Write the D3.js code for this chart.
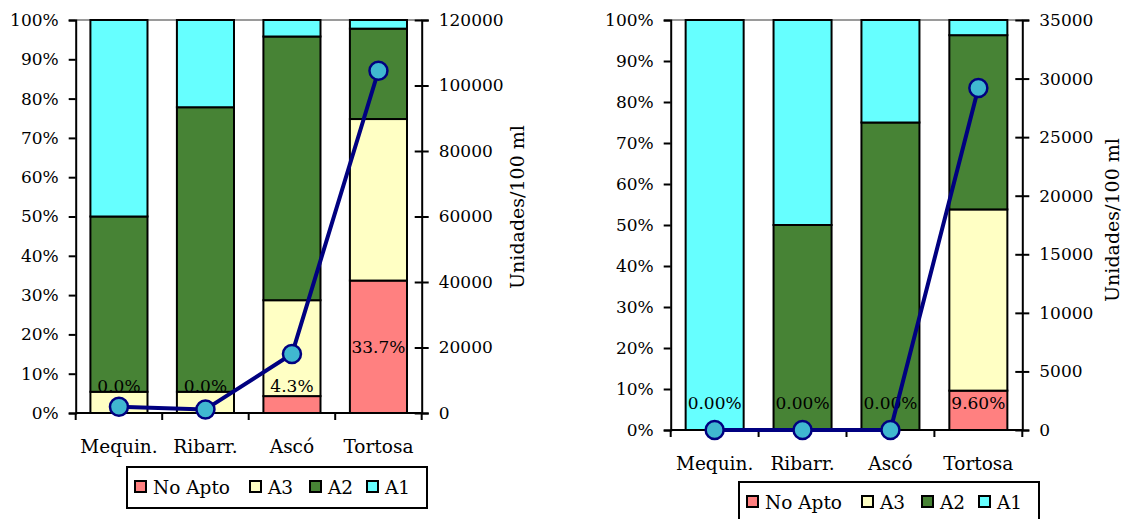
<!DOCTYPE html>
<html>

<head>
    <meta charset="utf-8">
    <title>Calidad del agua - Ebro</title>
    <script type="text/javascript" src="https://d3js.org/d3.v7.min.js"></script>

    <style>
        body {
            margin: 0;
            background: #fff;
        }

        svg {
            display: block;
        }

        text {
            font-family: "DejaVu Serif", serif;
            font-size: 17px;
            fill: #000;
        }

        text.cat,
        text.leg {
            font-size: 18.5px;
        }

        text.ttl {
            font-size: 19px;
        }
    </style>

</head>

<body>
</body>

<script type="text/javascript">
    //Width and height
    var w = 1127;
    var h = 519;

    //Categories and legend names
    var categories = ["Mequin.", "Ribarr.", "Ascó", "Tortosa"];
    var seriesNames = ["No Apto", "A3", "A2", "A1"];
    var seriesColors = ["#ff8080", "#ffffc4", "#478335", "#66ffff"];

    //Left chart: share of samples per class
    var leftNoApto = [0, 0, 0.043, 0.337];
    var leftA3 = [0.054, 0.054, 0.244, 0.411];
    var leftA2 = [0.446, 0.724, 0.671, 0.230];
    var leftA1 = [0.500, 0.222, 0.042, 0.022];
    //Left chart: Unidades/100 ml
    var leftUnits = [1900, 1100, 18000, 104500];
    var leftUnitTicks = [0, 20000, 40000, 60000, 80000, 100000, 120000];

    //Right chart: share of samples per class
    var rightNoApto = [0, 0, 0, 0.096];
    var rightA3 = [0, 0, 0, 0.442];
    var rightA2 = [0, 0.50, 0.75, 0.425];
    var rightA1 = [1.00, 0.50, 0.25, 0.037];
    //Right chart: Unidades/100 ml
    var rightUnits = [0, 0, 0, 29200];
    var rightUnitTicks = [0, 5000, 10000, 15000, 20000, 25000, 30000, 35000];

    var pctTicks = [0, 0.1, 0.2, 0.3, 0.4, 0.5, 0.6, 0.7, 0.8, 0.9, 1];

    var svg = d3.select("body")
        .append("svg")
        .attr("width", w)
        .attr("height", h);

    drawChart({
        left: 75.7, right: 421.7, top: 20, bottom: 413,
        series: [leftNoApto, leftA3, leftA2, leftA1],
        units: leftUnits, unitTicks: leftUnitTicks,
        labelFormat: d3.format(".1%"),
        titleX: 516.7, titleY: 207,
        legendX: 127, legendY: 467
    });

    drawChart({
        left: 670.7, right: 1022.3, top: 20, bottom: 430,
        series: [rightNoApto, rightA3, rightA2, rightA1],
        units: rightUnits, unitTicks: rightUnitTicks,
        labelFormat: d3.format(".2%"),
        titleX: 1111.7, titleY: 220,
        legendX: 739, legendY: 482
    });

    function drawChart(c) {
        var g = svg.append("g");

        var x = d3.scaleBand()
            .domain(categories)
            .range([c.left, c.right])
            .paddingInner(0.34)
            .paddingOuter(0.17);

        var y = d3.scaleLinear().domain([0, 1]).range([c.bottom, c.top]);

        var yUnits = d3.scaleLinear()
            .domain([0, d3.max(c.unitTicks)])
            .range([c.bottom, c.top]);

        //Build rows for d3.stack
        var rows = categories.map(function(cat, i) {
            var r = { cat: cat };
            seriesNames.forEach(function(s, j) {
                r[s] = c.series[j][i];
            });
            return r;
        });

        var stacked = d3.stack().keys(seriesNames)(rows);

        //Gray plot border at the top
        g.append("line")
            .attr("x1", c.left).attr("x2", c.right)
            .attr("y1", c.top).attr("y2", c.top)
            .attr("stroke", "#9a9a9a")
            .attr("stroke-width", 2);

        //Stacked bars
        g.selectAll("g.layer")
            .data(stacked)
            .enter()
            .append("g")
            .attr("class", "layer")
            .attr("fill", function(d, i) {
                return seriesColors[i];
            })
            .selectAll("rect")
            .data(function(d) {
                return d.filter(function(p) {
                    return p[1] - p[0] > 0;
                });
            })
            .enter()
            .append("rect")
            .attr("x", function(d) {
                return x(d.data.cat);
            })
            .attr("width", x.bandwidth())
            .attr("y", function(d) {
                return y(d[1]);
            })
            .attr("height", function(d) {
                return y(d[0]) - y(d[1]);
            })
            .attr("stroke", "#000")
            .attr("stroke-width", 2);

        //Data labels of the "No Apto" layer
        g.selectAll("text.lbl")
            .data(stacked[0])
            .enter()
            .append("text")
            .attr("class", "lbl")
            .attr("x", function(d) {
                return x(d.data.cat) + x.bandwidth() / 2;
            })
            .attr("y", function(d) {
                var mid = (y(d[0]) + y(d[1])) / 2;
                return Math.min(mid, y(0) - 27);
            })
            .attr("text-anchor", "middle")
            .attr("dominant-baseline", "central")
            .text(function(d) {
                return c.labelFormat(d[1] - d[0]);
            });

        //Left axis (percent)
        var axL = g.append("g")
            .attr("transform", "translate(" + c.left + ",0)")
            .call(d3.axisLeft(y)
                .tickValues(pctTicks)
                .tickFormat(d3.format(".0%"))
                .tickSize(7)
                .tickPadding(10));

        //Right axis (units)
        var axR = g.append("g")
            .attr("transform", "translate(" + c.right + ",0)")
            .call(d3.axisRight(yUnits)
                .tickValues(c.unitTicks)
                .tickFormat(d3.format("d"))
                .tickSize(7)
                .tickPadding(10));
        axR.selectAll(".tick line").attr("x1", -7);

        //Bottom axis, ticks at band edges
        var edges = d3.range(categories.length + 1).map(function(i) {
            return c.left + i * x.step();
        });
        g.append("line")
            .attr("x1", c.left).attr("x2", c.right)
            .attr("y1", c.bottom).attr("y2", c.bottom)
            .attr("stroke", "#000")
            .attr("stroke-width", 2);
        g.selectAll("line.xt")
            .data(edges)
            .enter()
            .append("line")
            .attr("class", "xt")
            .attr("x1", function(d) { return d; })
            .attr("x2", function(d) { return d; })
            .attr("y1", c.bottom)
            .attr("y2", c.bottom + 7)
            .attr("stroke", "#000")
            .attr("stroke-width", 2);
        g.selectAll("text.cat")
            .data(categories)
            .enter()
            .append("text")
            .attr("class", "cat")
            .attr("x", function(d) {
                return x(d) + x.bandwidth() / 2;
            })
            .attr("y", c.bottom + 40)
            .attr("text-anchor", "middle")
            .text(function(d) { return d; });

        [axL, axR].forEach(function(a) {
            a.select(".domain").attr("stroke-width", 2).attr("stroke", "#000");
            a.selectAll(".tick line").attr("stroke-width", 2).attr("stroke", "#000");
            a.selectAll(".tick text")
                .style("font-family", "DejaVu Serif, serif")
                .style("font-size", "17px");
        });

        //Line of units
        var line = d3.line()
            .x(function(d, i) {
                return x(categories[i]) + x.bandwidth() / 2;
            })
            .y(function(d) {
                return yUnits(d);
            });

        g.append("path")
            .datum(c.units)
            .attr("d", line)
            .attr("fill", "none")
            .attr("stroke", "#000080")
            .attr("stroke-width", 4)
            .attr("stroke-linejoin", "round");

        g.selectAll("circle")
            .data(c.units)
            .enter()
            .append("circle")
            .attr("cx", function(d, i) {
                return x(categories[i]) + x.bandwidth() / 2;
            })
            .attr("cy", function(d) {
                return yUnits(d);
            })
            .attr("r", 9)
            .attr("fill", "#40b8d0")
            .attr("stroke", "#000080")
            .attr("stroke-width", 2.5);

        //Axis title
        g.append("text")
            .attr("class", "ttl")
            .attr("transform", "translate(" + c.titleX + "," + c.titleY + ") rotate(-90)")
            .attr("text-anchor", "middle")
            .attr("dominant-baseline", "central")
            .text("Unidades/100 ml");

        //Legend
        var lg = g.append("g")
            .attr("transform", "translate(" + c.legendX + "," + c.legendY + ")");
        lg.append("rect")
            .attr("width", 300)
            .attr("height", 41)
            .attr("fill", "#fff")
            .attr("stroke", "#000")
            .attr("stroke-width", 2);

        var offsets = [8, 123, 183, 240];
        seriesNames.forEach(function(s, i) {
            lg.append("rect")
                .attr("x", offsets[i])
                .attr("y", 14)
                .attr("width", 11)
                .attr("height", 11)
                .attr("fill", seriesColors[i])
                .attr("stroke", "#000")
                .attr("stroke-width", 2);
            lg.append("text")
                .attr("class", "leg")
                .attr("x", offsets[i] + 18)
                .attr("y", 20)
                .attr("dominant-baseline", "central")
                .text(s);
        });
    }
</script>

</html>
